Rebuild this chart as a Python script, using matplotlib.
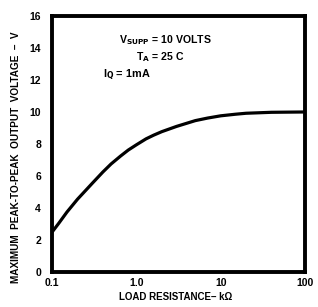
import matplotlib.pyplot as plt

# load resistance (kOhm) and max peak-to-peak output (V)
load_k = [0.1, 0.12, 0.15, 0.2, 0.25, 0.3, 0.4, 0.5, 0.65, 0.8, 1.0, 1.3, 1.6, 2.0, 3.0, 5.0, 7.0, 10, 15, 20, 40, 100]
vpp = [2.5, 3.05, 3.75, 4.55, 5.1, 5.55, 6.25, 6.75, 7.25, 7.62, 7.95, 8.32, 8.55, 8.77, 9.1, 9.46, 9.62, 9.76, 9.86, 9.92, 9.98, 10.0]

x_ticks = [0.1, 1.0, 10, 100]
x_tick_labels = ['0.1', '1.0', '10', '100']
y_ticks = [0, 2, 4, 6, 8, 10, 12, 14, 16]

plt.rcParams['font.family'] = ['Liberation Sans', 'DejaVu Sans']
plt.rcParams['font.weight'] = 'bold'

fig = plt.figure(figsize=(3.18, 3.07), dpi=100)
ax = fig.add_axes([0.164, 0.114, 0.795, 0.834])

ax.plot(load_k, vpp, color='black', lw=2.3, solid_capstyle='butt')
ax.set_xscale('log')
ax.set_xlim(0.1, 100)
ax.set_ylim(0, 16)
ax.set_xticks(x_ticks)
ax.set_xticklabels(x_tick_labels)
ax.minorticks_off()
ax.set_yticks(y_ticks)
ax.tick_params(length=0, labelsize=7.5)
ax.tick_params(axis='y', pad=8)
ax.tick_params(axis='x', pad=4)

for s in ax.spines.values():
    s.set_linewidth(2.8)

ax.set_xlabel('LOAD RESISTANCE\u2013 k\u03a9', fontsize=7, fontweight='bold')
ax.xaxis.set_label_coords(0.49, -0.098)
ax.xaxis.label.set_va('center')
ax.set_ylabel('MAXIMUM  PEAK-TO-PEAK  OUTPUT  VOLTAGE  \u2013  V', fontsize=7.2, fontweight='bold')
ax.yaxis.set_label_coords(-0.142, 0.45)
ax.yaxis.label.set_va('center')

ax.text(0.265, 0.893, r'V$_{\mathbf{SUPP}}$ = 10 VOLTS', transform=ax.transAxes, fontsize=7.6)
ax.text(0.33, 0.828, r'T$_{\mathbf{A}}$ = 25 C', transform=ax.transAxes, fontsize=7.6)
ax.text(0.2, 0.762, r'I$_{\mathrm{Q}}$ = 1mA', transform=ax.transAxes, fontsize=7.8)

fig.savefig('out.png', dpi=100)
